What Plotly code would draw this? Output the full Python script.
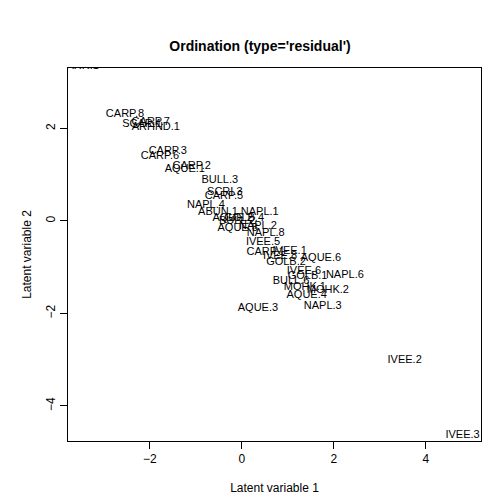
import plotly.graph_objects as go

labels = ["ARR.1","CARP.8","SCAR.1","CARP.7","ARHND.1","CARP.3","CARP.6","CARP.2","AQUE.1",
          "BULL.3","SCRI.3","CARP.5","NAPL.4","ABUN.1","NAPL.1","AQUE.2","BULL.2","GOLB.4",
          "AQUE.8","NAPL.2","NAPL.8","IVEE.5","CARP.1","IVEE.1","IVEE.8","AQUE.6","GOLB.2",
          "IVEE.6","GOLB.1","NAPL.6","BULL.6","MOHK.1","MOHK.2","AQUE.4","AQUE.3","NAPL.3",
          "IVEE.2","IVEE.3"]
lv1 = [-3.46,-2.54,-2.17,-1.98,-1.87,-1.61,-1.78,-1.09,-1.24,
       -0.48,-0.37,-0.39,-0.78,-0.52,0.39,-0.2,-0.1,0.05,
       -0.09,0.35,0.52,0.46,0.52,1.04,0.83,1.72,0.96,
       1.35,1.43,2.24,1.07,1.37,1.87,1.41,0.35,1.76,
       3.54,4.80]
lv2 = [3.35,2.31,2.10,2.14,2.03,1.51,1.41,1.19,1.12,
       0.89,0.63,0.54,0.35,0.19,0.19,0.06,0.0,0.05,
       -0.15,-0.11,-0.26,-0.45,-0.67,-0.65,-0.76,-0.80,-0.89,
       -1.08,-1.19,-1.17,-1.30,-1.43,-1.49,-1.60,-1.88,-1.84,
       -3.01,-4.63]

fig = go.Figure(go.Scatter(x=lv1, y=lv2, text=labels, mode="text",
                           textfont=dict(family="Liberation Sans, Arial", size=11, color="black"),
                           cliponaxis=True, hoverinfo="skip"))
ax = dict(showgrid=False, zeroline=False, showline=True, mirror=True, linecolor="black",
          linewidth=1, ticks="outside", ticklen=7, tickcolor="black", automargin=False,
          tickfont=dict(size=12, color="black"), title_font=dict(size=12, color="black"))
fig.update_layout(
    width=504, height=504, margin=dict(l=60, r=31, t=60, b=71, autoexpand=False),
    plot_bgcolor="white", paper_bgcolor="white", showlegend=False,
    font=dict(family="Liberation Sans, Arial", color="black"),
    title=dict(text="<b>Ordination (type='residual')</b>", x=0.5, xanchor="center",
               y=0.935, font=dict(size=14)),
    xaxis=dict(ax, range=[-3.78, 5.2], tickvals=[-2, 0, 2, 4], title=dict(text="Latent variable 1", standoff=18)),
    yaxis=dict(ax, range=[-4.76, 3.31], tickvals=[-4, -2, 0, 2], tickangle=-90,
               title=dict(text="Latent variable 2", standoff=10)),
)
fig.write_html("out.html")
